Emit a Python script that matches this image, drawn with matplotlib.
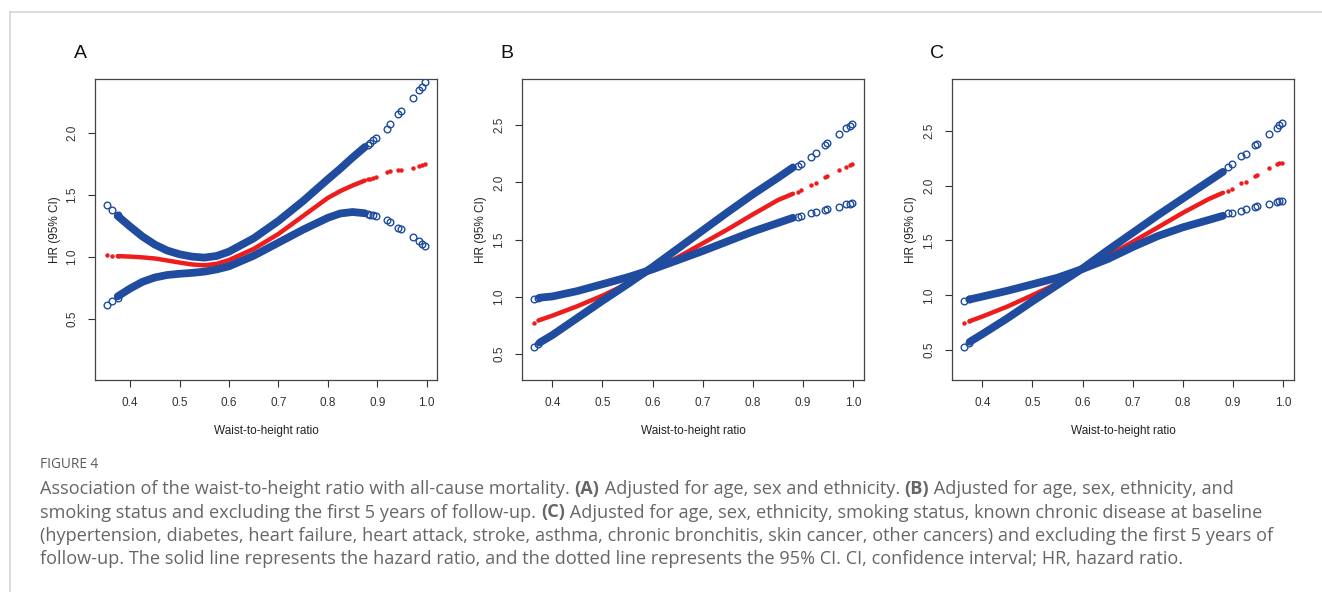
import matplotlib
matplotlib.use('Agg')
import matplotlib.pyplot as plt
from matplotlib.ticker import FormatStrFormatter
from matplotlib.font_manager import FontProperties

# ---- data ----
# panel A
a_band_x = [0.375, 0.40, 0.425, 0.45, 0.475, 0.50, 0.525, 0.55, 0.575, 0.60,
            0.65, 0.70, 0.75, 0.80, 0.825, 0.85, 0.875]
a_band_upper = [1.33, 1.245, 1.165, 1.10, 1.052, 1.022, 1.003, 0.995, 1.008, 1.043,
                1.15, 1.29, 1.45, 1.625, 1.71, 1.80, 1.885]
a_band_hr = [1.007, 1.003, 0.997, 0.988, 0.972, 0.955, 0.94, 0.933, 0.945, 0.975,
             1.065, 1.185, 1.33, 1.475, 1.53, 1.575, 1.615]
a_band_lower = [0.683, 0.746, 0.80, 0.835, 0.855, 0.865, 0.872, 0.882, 0.90, 0.925,
                1.01, 1.115, 1.22, 1.315, 1.35, 1.362, 1.352]
a_tail_x = [0.353, 0.364, 0.375, 0.882, 0.886, 0.892, 0.897, 0.919, 0.926,
            0.943, 0.949, 0.972, 0.984, 0.991, 0.997]
a_tail_upper = [1.419, 1.378, 1.338, 1.905, 1.92, 1.944, 1.954, 2.032, 2.067,
                2.153, 2.174, 2.279, 2.346, 2.372, 2.407]
a_tail_hr = [1.014, 1.008, 1.005, 1.625, 1.63, 1.636, 1.64, 1.684, 1.688,
             1.697, 1.70, 1.719, 1.735, 1.742, 1.747]
a_tail_lower = [0.61, 0.644, 0.673, 1.345, 1.34, 1.335, 1.327, 1.295, 1.282,
                1.234, 1.226, 1.161, 1.125, 1.105, 1.086]

# panel B
b_band_x = [0.375, 0.40, 0.45, 0.50, 0.55, 0.60, 0.65, 0.70, 0.75, 0.80, 0.85, 0.88]
b_band_flat = [0.992, 1.003, 1.05, 1.11, 1.17, 1.24, 1.32, 1.40, 1.485, 1.57, 1.645, 1.69]
b_band_steep = [0.60, 0.665, 0.815, 0.965, 1.11, 1.26, 1.42, 1.58, 1.74, 1.895, 2.04, 2.13]
b_band_hr = [0.797, 0.835, 0.918, 1.01, 1.115, 1.235, 1.345, 1.467, 1.59, 1.72, 1.845, 1.90]
b_tail_x = [0.364, 0.372, 0.890, 0.896, 0.916, 0.925, 0.943, 0.947, 0.971, 0.986, 0.993, 0.997]
b_tail_flat = [0.983, 0.99, 1.70, 1.708, 1.729, 1.743, 1.758, 1.763, 1.787, 1.81, 1.813, 1.816]
b_tail_steep = [0.564, 0.59, 2.142, 2.157, 2.223, 2.253, 2.325, 2.34, 2.42, 2.477, 2.494, 2.512]
b_tail_hr = [0.774, 0.795, 1.912, 1.932, 1.976, 1.996, 2.049, 2.058, 2.107, 2.136, 2.151, 2.162]

# panel C
c_band_x = [0.375, 0.40, 0.45, 0.50, 0.55, 0.60, 0.65, 0.70, 0.75, 0.80, 0.85, 0.88]
c_band_flat = [0.962, 0.988, 1.041, 1.10, 1.16, 1.24, 1.33, 1.44, 1.54, 1.62, 1.685, 1.725]
c_band_steep = [0.575, 0.645, 0.79, 0.945, 1.095, 1.245, 1.41, 1.57, 1.73, 1.883, 2.035, 2.126]
c_band_hr = [0.764, 0.806, 0.897, 1.001, 1.108, 1.229, 1.357, 1.488, 1.619, 1.752, 1.874, 1.935]
c_tail_x = [0.3635, 0.374, 0.890, 0.897, 0.916, 0.926, 0.944, 0.948, 0.972, 0.987, 0.992, 0.997]
c_tail_flat = [0.95, 0.962, 1.746, 1.752, 1.77, 1.783, 1.807, 1.813, 1.837, 1.853, 1.859, 1.862]
c_tail_steep = [0.53, 0.565, 2.172, 2.193, 2.269, 2.293, 2.369, 2.384, 2.47, 2.53, 2.552, 2.567]
c_tail_hr = [0.743, 0.764, 1.953, 1.965, 2.02, 2.035, 2.087, 2.096, 2.157, 2.193, 2.202, 2.211]

x_ticks = [0.4, 0.5, 0.6, 0.7, 0.8, 0.9, 1.0]
a_yticks = [0.5, 1.0, 1.5, 2.0]
bc_yticks = [0.5, 1.0, 1.5, 2.0, 2.5]

caption_title = 'FIGURE 4'
caption_lines = [
    [('Association of the waist-to-height ratio with all-cause mortality. ', False), ('(A)', True),
     (' Adjusted for age, sex and ethnicity. ', False), ('(B)', True),
     (' Adjusted for age, sex, ethnicity, and', False)],
    [('smoking status and excluding the first 5 years of follow-up. ', False), ('(C)', True),
     (' Adjusted for age, sex, ethnicity, smoking status, known chronic disease at baseline', False)],
    [('(hypertension, diabetes, heart failure, heart attack, stroke, asthma, chronic bronchitis, '
      'skin cancer, other cancers) and excluding the first 5 years of', False)],
    [('follow-up. The solid line represents the hazard ratio, and the dotted line represents '
      'the 95% CI. CI, confidence interval; HR, hazard ratio.', False)],
]

BLUE = '#1f4c9e'
RED = '#ee1c1c'
W, H = 1322, 592

fig = plt.figure(figsize=(W / 100, H / 100), dpi=100)
plt.rcParams['font.family'] = ['Liberation Sans', 'DejaVu Sans']


def panel(left_px, band_x, band_hr, band_ci, tail_x, tail_hr, tail_ci, ylim, yticks, letter):
    ax = fig.add_axes([left_px / W, (H - 380) / H, 342.5 / W, 300.7 / H])
    # red estimate first, blue CI on top
    ax.plot(band_x, band_hr, color=RED, lw=3.2, solid_capstyle='round',
            solid_joinstyle='round', zorder=2)
    ax.plot(tail_x, tail_hr, 'o', color=RED, ms=3.2, mew=0, zorder=2)
    for ys in band_ci:
        ax.plot(band_x, ys, color=BLUE, lw=5.6, solid_capstyle='round',
                solid_joinstyle='round', zorder=3)
    for ts in tail_ci:
        ax.plot(tail_x, ts, 'o', mfc='none', mec=BLUE, ms=4.8, mew=1.0, zorder=3)
    ax.set_xlim(0.329 if letter == 'A' else 0.339, 1.022)
    ax.set_ylim(*ylim)
    ax.set_xticks(x_ticks)
    ax.set_yticks(yticks)
    ax.xaxis.set_major_formatter(FormatStrFormatter('%.1f'))
    ax.yaxis.set_major_formatter(FormatStrFormatter('%.1f'))
    ax.tick_params(direction='out', length=5, width=0.8, colors='#333333',
                   labelsize=8.5, pad=7)
    ax.tick_params(axis='y', labelrotation=90)
    for lab in ax.get_yticklabels():
        lab.set_va('center')
    for s in ax.spines.values():
        s.set_color('#444444')
        s.set_linewidth(0.9)
    ax.set_xlabel('Waist-to-height ratio', fontsize=8.5, color='#222222', labelpad=12)
    ax.set_ylabel('HR (95% CI)', fontsize=8.5, color='#222222', labelpad=4)
    fig.text((left_px - 15) / W, 1 - 53 / H, letter, fontsize=14, color='#111111',
             ha='center', va='center')
    return ax


panel(95, a_band_x, a_band_hr, [a_band_upper, a_band_lower],
      a_tail_x, a_tail_hr, [a_tail_upper, a_tail_lower], (0.01, 2.43), a_yticks, 'A')
panel(521.7, b_band_x, b_band_hr, [b_band_flat, b_band_steep],
      b_tail_x, b_tail_hr, [b_tail_flat, b_tail_steep], (0.273, 2.90), bc_yticks, 'B')
panel(951.7, c_band_x, c_band_hr, [c_band_flat, c_band_steep],
      c_tail_x, c_tail_hr, [c_tail_flat, c_tail_steep], (0.227, 2.97), bc_yticks, 'C')

# frame lines of the page
fig.add_artist(plt.Line2D([9.5 / W, 1], [1 - 11.7 / H] * 2, color='#d4d4d4', lw=1.2))
fig.add_artist(plt.Line2D([9.5 / W] * 2, [0, 1 - 11.7 / H], color='#d4d4d4', lw=1.2))

# caption
cap_font = 'Open Sans'
cap_size = 13.1
cap_color = '#666666'
fig.text(40 / W, 1 - 465 / H, caption_title, fontsize=9.8, color='#5a5a5a',
         family=cap_font, va='center')
renderer = fig.canvas.get_renderer()


def text_width(s, bold):
    fp = FontProperties(family=cap_font, size=cap_size, weight='bold' if bold else 'normal')
    w1 = renderer.get_text_width_height_descent('|' + s + '|', fp, ismath=False)[0]
    w0 = renderer.get_text_width_height_descent('||', fp, ismath=False)[0]
    return w1 - w0


line_y = [489, 512.5, 536, 559.5]
for y, parts in zip(line_y, caption_lines):
    x = 40.0
    for s, bold in parts:
        fig.text(x / W, 1 - y / H, s, fontsize=cap_size, color=cap_color, family=cap_font,
                 weight='bold' if bold else 'normal', va='center')
        x += text_width(s, bold)

fig.savefig('out.png', dpi=100)
